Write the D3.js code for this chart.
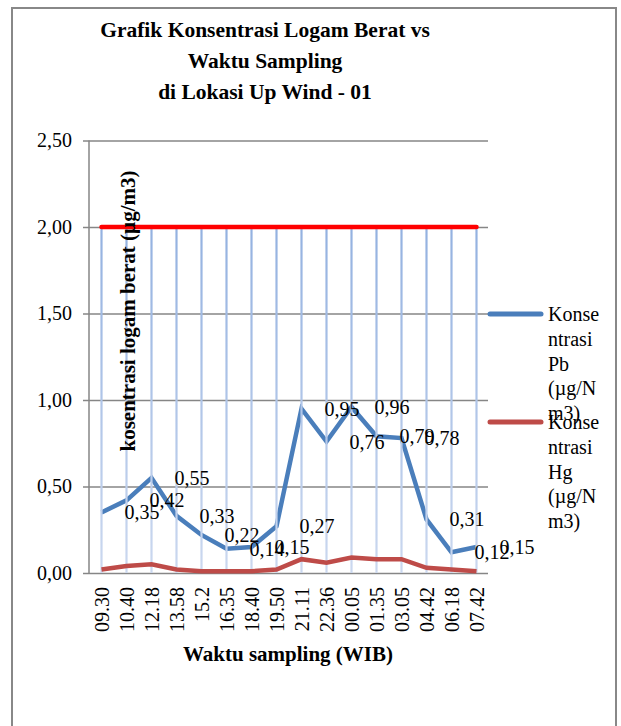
<!DOCTYPE html>
<html>
<head>
<meta charset="utf-8">
<script src="https://cdn.jsdelivr.net/npm/d3@7"></script>
<style>
  html, body { margin: 0; padding: 0; background: #fff; }
  text { font-family: "Liberation Serif", "Times New Roman", serif; fill: #000; }
</style>
</head>
<body>
<svg id="chart" width="621" height="726"></svg>
<script>
const categories = ["09.30","10.40","12.18","13.58","15.2","16.35","18.40","19.50","21.11","22.36","00.05","01.35","03.05","04.42","06.18","07.42"];
const pbValues = [0.35,0.42,0.55,0.33,0.22,0.14,0.15,0.27,0.95,0.76,0.96,0.79,0.78,0.31,0.12,0.15];
const hgValues = [0.02,0.04,0.05,0.02,0.01,0.01,0.01,0.02,0.08,0.06,0.09,0.08,0.08,0.03,0.02,0.01];
const limitValues = [2,2,2,2,2,2,2,2,2,2,2,2,2,2,2,2];
const yTicks = [0,0.5,1,1.5,2,2.5];
const titleLines = ["Grafik Konsentrasi Logam Berat vs","Waktu Sampling","di Lokasi Up Wind - 01"];
const yTitle = "kosentrasi logam berat (µg/m3)";
const xTitle = "Waktu sampling (WIB)";
const legendPb = ["Konse","ntrasi","Pb","(µg/N","m3)"];
const legendHg = ["Konse","ntrasi","Hg","(µg/N","m3)"];

(function () {
const svg = d3.select("#chart");
const fmt = v => d3.format(".2f")(v).replace(".", ",");

svg.append("rect").attr("width",621).attr("height",726).attr("fill","#fff");
svg.append("rect").attr("x",12).attr("y",8).attr("width",604).attr("height",740)
  .attr("fill","none").attr("stroke","#888").attr("stroke-width",2);

const pL = 89, pR = 489, pT = 140.5, pB = 573;
const x = d3.scaleBand().domain(categories).range([pL, pR]);
const y = d3.scaleLinear().domain([0, 2.5]).range([pB, pT]);
const cx = c => x(c) + x.bandwidth() / 2;

// title
const title = svg.append("text").attr("text-anchor","middle")
  .style("font-weight","bold").style("font-size","21.5px");
titleLines.forEach((t,i) => title.append("tspan").attr("x",265).attr("y",37 + i*31).text(t));

// gridlines & y axis
const yAxis = d3.axisLeft(y).tickValues(yTicks).tickSize(-(pR - pL - 1)).tickPadding(12).tickFormat(fmt);
const gy = svg.append("g").attr("transform",`translate(${pL},0)`).call(yAxis);
gy.select(".domain").remove();
gy.selectAll(".tick line").attr("stroke","#868686").attr("stroke-width",1.5).attr("x1",-6);
gy.selectAll(".tick text").style("font-size","20px").style("font-family","Liberation Serif").attr("x",-17);
svg.append("line").attr("x1",pL).attr("x2",pL).attr("y1",pT).attr("y2",pB)
  .attr("stroke","#868686").attr("stroke-width",1.5);

// x axis labels
const xAxis = d3.axisBottom(x).tickSize(0).tickPadding(0);
const gx = svg.append("g").attr("transform",`translate(0,${pB})`).call(xAxis);
gx.select(".domain").remove();
gx.selectAll(".tick text")
  .style("font-size","20px").style("font-family","Liberation Serif")
  .attr("text-anchor","end").attr("transform","rotate(-90)")
  .attr("x",-14).attr("y",0).attr("dy","0.35em");

// Pb line
const line = d3.line().x((d,i) => cx(categories[i])).y(d => y(d));
svg.append("path").datum(pbValues).attr("d",line).attr("fill","none")
  .attr("stroke","#4a7ebb").attr("stroke-width",4.5).attr("stroke-linejoin","miter");

// drop lines
const defs = svg.append("defs");
const grad = defs.append("linearGradient").attr("id","dropGrad").attr("gradientUnits","userSpaceOnUse")
  .attr("x1",0).attr("x2",0).attr("y1",y(2)).attr("y2",y(0));
grad.append("stop").attr("offset","0").attr("stop-color","#93b1e0");
grad.append("stop").attr("offset","1").attr("stop-color","#cbd8ef");
svg.append("g").selectAll("line").data(limitValues).join("line")
  .attr("x1",(d,i)=>cx(categories[i])).attr("x2",(d,i)=>cx(categories[i]))
  .attr("y1",d=>y(d)).attr("y2",y(0))
  .attr("stroke","url(#dropGrad)").attr("stroke-width",2.2);

// Hg line
svg.append("path").datum(hgValues).attr("d",line).attr("fill","none")
  .attr("stroke","#be4b48").attr("stroke-width",4.5);

// limit line
svg.append("path").datum(limitValues).attr("d",line).attr("fill","none")
  .attr("stroke","#ff0000").attr("stroke-width",4.5).attr("stroke-linecap","round");

// Pb data labels
svg.append("g").selectAll("text").data(pbValues).join("text")
  .attr("x",(d,i)=>cx(categories[i]) + 23).attr("y",d=>y(d)).attr("dy","0.35em")
  .style("font-size","20px").text(d=>fmt(d));

// axis titles
svg.append("text").attr("transform","translate(128,311) rotate(-90)").attr("text-anchor","middle")
  .attr("dy","0.35em").style("font-weight","bold").style("font-size","21px").text(yTitle);
svg.append("text").attr("x",288).attr("y",661).attr("text-anchor","middle")
  .style("font-weight","bold").style("font-size","21px").text(xTitle);

// legend
function legendItem(ly, color, lines) {
  svg.append("line").attr("x1",490).attr("x2",541).attr("y1",ly).attr("y2",ly)
    .attr("stroke",color).attr("stroke-width",5).attr("stroke-linecap","round");
  const t = svg.append("text").style("font-size","20px");
  lines.forEach((s,i)=> t.append("tspan").attr("x",548).attr("y",ly + 7 + i*24.8).text(s));
}
legendItem(314, "#4a7ebb", legendPb);
legendItem(422, "#be4b48", legendHg);
})();
</script>
</body>
</html>
